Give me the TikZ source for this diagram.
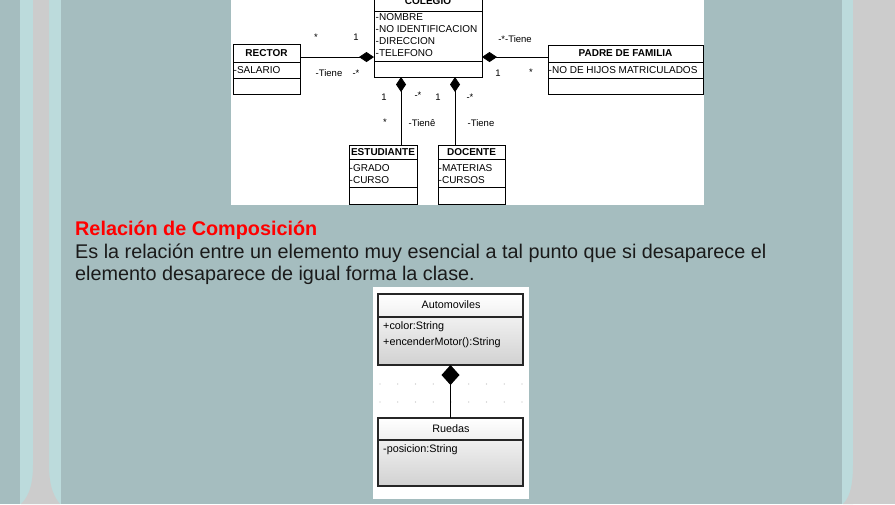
\documentclass[tikz,border=0pt]{standalone}
\usepackage{fontspec}
\setmainfont{Liberation Sans}
\usetikzlibrary{arrows.meta}
\definecolor{bgmain}{HTML}{A5BDBF}
\definecolor{cyanl}{HTML}{BCDBDC}
\definecolor{grayc}{HTML}{CCCCCC}
\definecolor{txt}{HTML}{1A1A1A}
\definecolor{dotc}{HTML}{BBBBBB}
\begin{document}
\begin{tikzpicture}[x=1pt,y=-1pt,
  umlbox/.style={draw=black, line width=0.7pt, inner sep=0pt, outer sep=0pt, anchor=north west},
  sepl/.style={line width=0.7pt},
  ttl/.style={font=\fontsize{10}{11}\selectfont\bfseries, inner sep=0pt},
  att/.style={font=\fontsize{10}{11}\selectfont, inner sep=0pt, anchor=west},
  mult/.style={font=\fontsize{9.5}{11}\selectfont, inner sep=0pt},
  comp/.style={line width=0.7pt, {Diamond[length=15pt,width=10pt]}-},
  shbox/.style={draw=black!85, line width=1.1pt, inner sep=0pt, outer sep=0pt, anchor=north west, top color=white, bottom color=black!18},
  bttl/.style={font=\fontsize{10.8}{12}\selectfont, inner sep=0pt},
  batt/.style={font=\fontsize{10.8}{12}\selectfont, inner sep=0pt, anchor=west},
  bcomp/.style={line width=1.2pt, {Diamond[length=20pt,width=18pt]}-},
  body/.style={font=\fontsize{19.8}{22}\selectfont, inner sep=0pt, anchor=base west, text=txt}]
\useasboundingbox (0,0) rectangle (895,504);
% background
\fill[bgmain] (0,0) rectangle (895,504);
\fill[cyanl] (20,0) rectangle (61,504);
\fill[grayc] (33,0) -- (33,465) .. controls (33,490) and (26,499) .. (21,504) -- (60,504) .. controls (56,499) and (49,490) .. (49,465) -- (49,0) -- cycle;
\fill[cyanl] (842,0) rectangle (853,504);
\fill[grayc] (853,0) rectangle (895,504);
\fill[grayc] (853,465) .. controls (853,490) and (848,499) .. (843,504) -- (853,504) -- cycle;
% top diagram
\begin{scope}
\clip (231,0) rectangle (704,205);
\fill[white] (231,0) rectangle (704,205);
\node[umlbox, minimum width=108pt, minimum height=83pt] (colegio) at (374,-6) {};
\draw[sepl] (colegio.west |- 0,11) -- (colegio.east |- 0,11);
\draw[sepl] (colegio.west |- 0,61) -- (colegio.east |- 0,61);
\node[ttl] (colT) at (428,1) {COLEGIO};
\node[att] (colA1) at (375.5,17) {-NOMBRE};
\node[att] (colA2) at (375.5,29) {-NO IDENTIFICACION};
\node[att] (colA3) at (375.5,41) {-DIRECCION};
\node[att] (colA4) at (375.5,53) {-TELEFONO};
\node[umlbox, minimum width=67pt, minimum height=50pt] (rector) at (233,44) {};
\draw[sepl] (rector.west |- 0,62) -- (rector.east |- 0,62);
\draw[sepl] (rector.west |- 0,78) -- (rector.east |- 0,78);
\node[ttl] (recT) at (266.5,53) {RECTOR};
\node[att] (recA) at (233.5,70) {-SALARIO};
\node[umlbox, minimum width=155pt, minimum height=49pt] (padre) at (548,45) {};
\draw[sepl] (padre.west |- 0,62) -- (padre.east |- 0,62);
\draw[sepl] (padre.west |- 0,78) -- (padre.east |- 0,78);
\node[ttl] (padT) at (625.5,53) {PADRE DE FAMILIA};
\node[att] (padA) at (548.5,70) {-NO DE HIJOS MATRICULADOS};
\node[umlbox, minimum width=68pt, minimum height=59pt] (estudiante) at (349,145) {};
\draw[sepl] (estudiante.west |- 0,159) -- (estudiante.east |- 0,159);
\draw[sepl] (estudiante.west |- 0,187) -- (estudiante.east |- 0,187);
\node[ttl] (estT) at (383,152) {ESTUDIANTE};
\node[att] (estA1) at (349.5,168) {-GRADO};
\node[att] (estA2) at (349.5,180) {-CURSO};
\node[umlbox, minimum width=67pt, minimum height=59pt] (docente) at (438,145) {};
\draw[sepl] (docente.west |- 0,159) -- (docente.east |- 0,159);
\draw[sepl] (docente.west |- 0,187) -- (docente.east |- 0,187);
\node[ttl] (docT) at (471.5,152) {DOCENTE};
\node[att] (docA1) at (438.5,168) {-MATERIAS};
\node[att] (docA2) at (438.5,180) {-CURSOS};
% connectors
\coordinate (rA) at ([yshift=-13pt]rector.north east);
\draw[comp] (colegio.west |- rA) -- (rA);
\coordinate (pA) at ([yshift=-12pt]padre.north west);
\draw[comp] (colegio.east |- pA) -- (pA);
\coordinate (eA) at ([xshift=52pt]estudiante.north west);
\draw[comp] (colegio.south -| eA) -- (eA);
\coordinate (dA) at ([xshift=17pt]docente.north west);
\draw[comp] (colegio.south -| dA) -- (dA);
% multiplicities
\node[mult] (m1) at (316,37) {*};
\node[mult] (m2) at (356,37) {1};
\node[mult] (m3) at (329,73) {-Tiene};
\node[mult] (m4) at (356,73) {-*};
\node[mult] (m5) at (515,39) {-*-Tiene};
\node[mult] (m6) at (498,73) {1};
\node[mult] (m7) at (531,72) {*};
\node[mult] (m8) at (384,97) {1};
\node[mult] (m9) at (418,95) {-*};
\node[mult] (m10) at (385,122) {*};
\node[mult] (m11) at (422,123) {-Tienê};
\node[mult] (m12) at (438,97) {1};
\node[mult] (m13) at (470,97) {-*};
\node[mult] (m14) at (481,123) {-Tiene};
\end{scope}
% text
\node[body, font=\fontsize{19.8}{22}\selectfont\bfseries, text=red] (head) at (75,235) {Relación de Composición};
\node[body] (par1) at (75,258) {Es la relación entre un elemento muy esencial a tal punto que si desaparece el};
\node[body] (par2) at (75,280) {elemento desaparece de igual forma la clase.};
% bottom diagram
\fill[white] (373,287) rectangle (529,499);
\foreach \yy in {384,402} {
  \foreach \xx in {380,397.75,...,523} {
    \fill[dotc] (\xx,\yy) circle (0.7);
  }
}
\node[shbox, minimum width=145pt, minimum height=71pt] (auto) at (378,294) {};
\draw[line width=1.1pt, draw=black!85] (auto.west |- 0,317) -- (auto.east |- 0,317);
\node[bttl] (autoT) at (451,305) {Automoviles};
\node[batt] (autoA1) at (383,327) {+color:String};
\node[batt] (autoA2) at (383,343) {+encenderMotor():String};
\node[shbox, minimum width=145pt, minimum height=68pt] (ruedas) at (378,418) {};
\draw[line width=1.1pt, draw=black!85] (ruedas.west |- 0,440) -- (ruedas.east |- 0,440);
\node[bttl] (ruT) at (451,429) {Ruedas};
\node[batt] (ruA1) at (383,450) {-posicion:String};
\draw[bcomp] (auto.south) -- (ruedas.north);
\end{tikzpicture}
\end{document}
